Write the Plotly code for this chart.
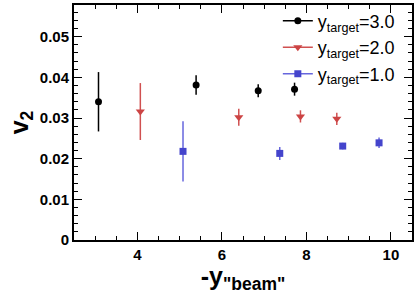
import plotly.graph_objects as go

# y_target = 3.0
x3 = [3.08, 5.39, 6.86, 7.72]
v3 = [0.0340, 0.0381, 0.0367, 0.0371]
e3 = [0.0073, 0.0024, 0.0016, 0.0016]
# y_target = 2.0
x2 = [4.07, 6.40, 7.86, 8.72]
v2 = [0.0316, 0.0302, 0.0304, 0.0298]
e2 = [0.0070, 0.0021, 0.0015, 0.0015]
# y_target = 1.0
x1 = [5.08, 7.37, 8.86, 9.72]
v1 = [0.0218, 0.0213, 0.0231, 0.0239]
e1 = [0.0074, 0.0016, 0.0008, 0.0013]

names = ["y<sub>target</sub>=3.0", "y<sub>target</sub>=2.0", "y<sub>target</sub>=1.0"]
xticks = [4, 6, 8, 10]
yticks = [0, 0.01, 0.02, 0.03, 0.04, 0.05]
ytick_labels = ["0", "0.01", "0.02", "0.03", "0.04", "0.05"]

styles = [
    dict(mc="#000000", ec="#000000", sym="circle", size=7),
    dict(mc="#cc4444", ec="#d05050", sym="triangle-down", size=8),
    dict(mc="#4444cc", ec="#6666dd", sym="square", size=7),
]
data = [(x3, v3, e3), (x2, v2, e2), (x1, v1, e1)]

fig = go.Figure()
for (xs, vs, es), st, nm in zip(data, styles, names):
    fig.add_trace(go.Scatter(
        x=xs, y=vs, mode="markers", showlegend=False,
        marker=dict(color=st["mc"], symbol=st["sym"], size=st["size"], line=dict(width=0)),
        error_y=dict(type="data", array=es, color=st["ec"], thickness=1.5, width=0),
    ))
for st, nm in zip(styles, names):
    fig.add_trace(go.Scatter(
        x=[None], y=[None], mode="lines+markers", name=nm,
        line=dict(color=st["ec"], width=1.5),
        marker=dict(color=st["mc"], symbol=st["sym"], size=st["size"]),
    ))

axis_common = dict(
    showgrid=False, zeroline=False, showline=True, linecolor="black", linewidth=2,
    mirror="ticks", ticks="inside", ticklen=8, tickcolor="black", tickwidth=1,
    tickfont=dict(family="Liberation Sans, Arial", size=15, color="black"),
    automargin=False,
)

fig.update_layout(
    width=415, height=294,
    margin=dict(l=74, r=3, t=3, b=54),
    paper_bgcolor="white", plot_bgcolor="white",
    font=dict(family="Liberation Sans, Arial", color="black"),
    xaxis=dict(
        range=[2.5, 10.5], tickvals=xticks,
        ticktext=["<b>%d</b>" % t for t in xticks],
        minor=dict(dtick=0.5, tick0=0, ticks="inside", ticklen=4, tickcolor="black"),
        title=dict(text="<b>-y<sub>\"beam\"</sub></b>", font=dict(size=25), standoff=4),
        **axis_common,
    ),
    yaxis=dict(
        range=[0, 0.0578], tickvals=yticks,
        ticktext=["<b>%s</b>" % t for t in ytick_labels],
        minor=dict(dtick=0.002, tick0=0, ticks="inside", ticklen=4, tickcolor="black"),
        title=dict(text="<b>v<sub>2</sub></b>", font=dict(size=25), standoff=4),
        **axis_common,
    ),
    legend=dict(
        x=0.964, y=1.01, xanchor="right", yanchor="top",
        bgcolor="rgba(0,0,0,0)", font=dict(size=18, family="Liberation Sans, Arial"),
        tracegroupgap=0, itemwidth=30,
    ),
)

fig.write_html("out.html", post_script="document.body.style.margin='0';",
               config={"displayModeBar": False})
